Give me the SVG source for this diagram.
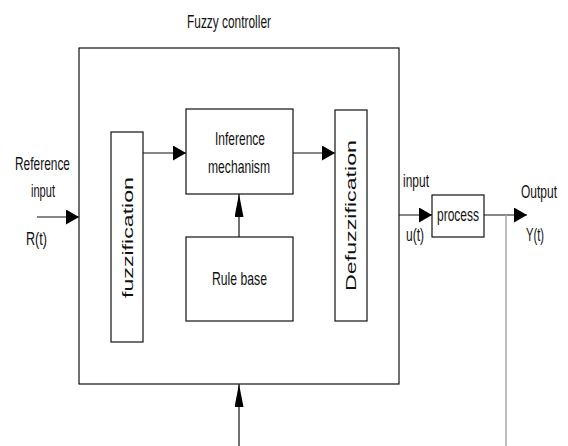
<svg xmlns="http://www.w3.org/2000/svg" width="568" height="446" viewBox="0 0 568 446">
<style>
.box{fill:#fff;stroke:#111;stroke-width:1.2}
.ln{fill:none;stroke:#111;stroke-width:1.2}
.gray{fill:none;stroke:#a8a8a8;stroke-width:1.5}
.t{font-family:"Liberation Sans",Arial,sans-serif;font-size:19px;fill:#111;text-anchor:middle}
.v{font-family:"Liberation Sans",Arial,sans-serif;font-size:15px;fill:#111;text-anchor:middle}
</style>
<defs>
<marker id="ah" markerUnits="userSpaceOnUse" markerWidth="14" markerHeight="16" refX="13" refY="7.5" orient="auto">
<path d="M0,0 L13,7.5 L0,15 Z" fill="#000"/>
</marker>
<marker id="av" markerUnits="userSpaceOnUse" markerWidth="24" markerHeight="10" refX="23" refY="4.5" orient="auto">
<path d="M0,0 L23,4.5 L0,9 Z" fill="#000"/>
</marker>
</defs>
<text class="t" x="229" y="28" textLength="84" lengthAdjust="spacingAndGlyphs">Fuzzy controller</text>
<g id="controller">
<rect class="box" x="79" y="48" width="320" height="336"/>
</g>
<g id="fuzzification">
<rect class="box" x="111" y="132" width="32" height="210"/>
<text class="v" transform="translate(132.5,237.5) rotate(-90)" x="0" y="0" textLength="121" lengthAdjust="spacingAndGlyphs">fuzzification</text>
</g>
<g id="inference">
<rect class="box" x="186" y="109" width="107" height="85"/>
<text class="t" x="240" y="145" textLength="50" lengthAdjust="spacingAndGlyphs">Inference</text>
<text class="t" x="239" y="173" textLength="62" lengthAdjust="spacingAndGlyphs">mechanism</text>
</g>
<g id="rulebase">
<rect class="box" x="186" y="237" width="107" height="84"/>
<text class="t" x="239.5" y="285" textLength="55" lengthAdjust="spacingAndGlyphs">Rule base</text>
</g>
<g id="defuzzification">
<rect class="box" x="335" y="110" width="32" height="211"/>
<text class="v" transform="translate(356,215.5) rotate(-90)" x="0" y="0" textLength="151" lengthAdjust="spacingAndGlyphs">Defuzzification</text>
</g>
<g id="process">
<rect class="box" x="432" y="195" width="52" height="42"/>
<text class="t" x="458" y="221" textLength="42" lengthAdjust="spacingAndGlyphs">process</text>
</g>
<g id="labels">
<text class="t" x="42.5" y="170" textLength="55" lengthAdjust="spacingAndGlyphs">Reference</text>
<text class="t" x="43" y="197" textLength="24" lengthAdjust="spacingAndGlyphs">input</text>
<text class="t" x="36.5" y="245" textLength="21" lengthAdjust="spacingAndGlyphs">R(t)</text>
<text class="t" x="416" y="187" textLength="26" lengthAdjust="spacingAndGlyphs">input</text>
<text class="t" x="415" y="241" textLength="18" lengthAdjust="spacingAndGlyphs">u(t)</text>
<text class="t" x="539" y="198" textLength="36" lengthAdjust="spacingAndGlyphs">Output</text>
<text class="t" x="535" y="241" textLength="18" lengthAdjust="spacingAndGlyphs">Y(t)</text>
</g>
<g id="connectors">
<line class="ln" x1="37" y1="217" x2="79" y2="217" marker-end="url(#ah)"/>
<line class="ln" x1="143" y1="153" x2="186" y2="153" marker-end="url(#ah)"/>
<line class="ln" x1="293" y1="153" x2="335" y2="153" marker-end="url(#ah)"/>
<line class="ln" x1="239" y1="237" x2="239" y2="194" marker-end="url(#av)"/>
<line class="ln" x1="399" y1="215" x2="432" y2="215" marker-end="url(#ah)"/>
<line class="ln" x1="484" y1="215" x2="527" y2="215" marker-end="url(#ah)"/>
<line class="gray" x1="506" y1="215" x2="506" y2="446"/>
<line class="ln" x1="239" y1="446" x2="239" y2="384" marker-end="url(#av)"/>
</g>
</svg>
